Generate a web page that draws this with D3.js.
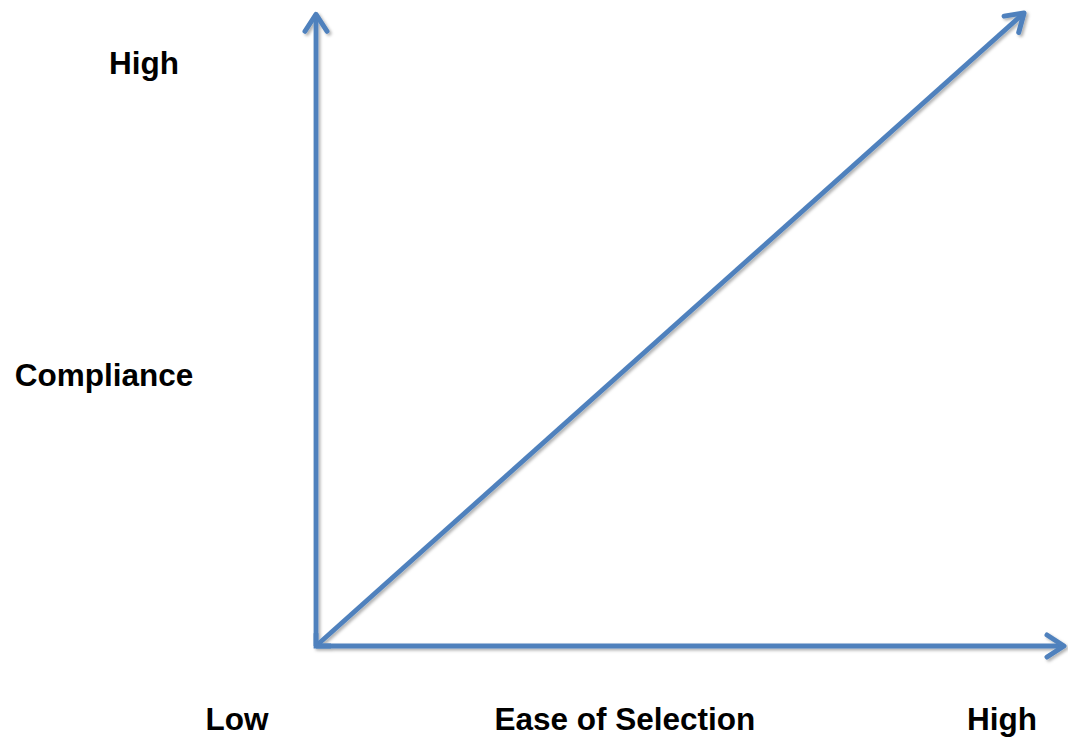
<!DOCTYPE html>
<html>
<head>
<meta charset="utf-8">
<script src="https://cdn.jsdelivr.net/npm/d3@7"></script>
<style>
  html, body { margin: 0; padding: 0; background: #fff; }
  svg { display: block; }
  text { font-family: "Liberation Sans", Arial, sans-serif; font-weight: bold; fill: #000; }
</style>
</head>
<body>
<svg id="chart" width="1068" height="737"></svg>
<script>
// Data (normalised 0..1 space)
const axisLines = [
  { name: "xAxis",    x1: 0, y1: 0, x2: 1, y2: 0 },
  { name: "yAxis",    x1: 0, y1: 0, x2: 0, y2: 0.998 },
  { name: "diagonal", x1: 0, y1: 0, x2: 0.9466, y2: 1 }
];
const yLabels = ["High", "Compliance"];
const xLabels = ["Low", "Ease of Selection", "High"];
const yLabelPos = [0.904, 0.411];
const xLabelPos = [-0.1056, 0.413, 0.917];

const W = 1068, H = 737;
const x = d3.scaleLinear().domain([0, 1]).range([316, 1064]);
const y = d3.scaleLinear().domain([0, 1]).range([646, 13]);

const svg = d3.select("#chart");
const color = "#4F81BD";

const defs = svg.append("defs");
const f = defs.append("filter").attr("id", "shadow")
  .attr("x", "-10%").attr("y", "-10%").attr("width", "120%").attr("height", "120%");
f.append("feDropShadow").attr("dx", 2).attr("dy", 2).attr("stdDeviation", 1.6)
  .attr("flood-color", "#000").attr("flood-opacity", 0.3);

defs.append("marker")
  .attr("id", "arrow")
  .attr("markerUnits", "userSpaceOnUse")
  .attr("viewBox", "-24 -14 28 28")
  .attr("refX", 0).attr("refY", 0)
  .attr("markerWidth", 28).attr("markerHeight", 28)
  .attr("orient", "auto")
  .append("path")
  .attr("d", "M-17,-11 L0,0 L-17,11")
  .attr("fill", "none")
  .attr("stroke", color)
  .attr("stroke-width", 5)
  .attr("stroke-linecap", "round")
  .attr("stroke-linejoin", "round");

const g = svg.append("g").attr("filter", "url(#shadow)");
g.selectAll("line").data(axisLines).join("line")
  .attr("x1", d => x(d.x1)).attr("y1", d => y(d.y1))
  .attr("x2", d => x(d.x2)).attr("y2", d => y(d.y2))
  .attr("stroke", color)
  .attr("stroke-width", 4.8)
  .attr("stroke-linecap", "butt")
  .attr("marker-end", "url(#arrow)");

// corner join
g.append("path")
  .attr("d", `M${x(0)},${y(0.02)} L${x(0)},${y(0)} L${x(0.02)},${y(0)}`)
  .attr("fill", "none").attr("stroke", color).attr("stroke-width", 4.8)
  .attr("stroke-linejoin", "miter");

// Y labels
svg.selectAll("text.ylab").data(yLabels).join("text")
  .attr("class", "ylab")
  .attr("x", (d, i) => i === 0 ? 144 : 104)
  .attr("y", (d, i) => y(yLabelPos[i]))
  .attr("text-anchor", "middle")
  .attr("font-size", 31.5)
  .text(d => d);

// X labels
svg.selectAll("text.xlab").data(xLabels).join("text")
  .attr("class", "xlab")
  .attr("x", (d, i) => x(xLabelPos[i]))
  .attr("y", 729.5)
  .attr("text-anchor", "middle")
  .attr("font-size", 31.5)
  .text(d => d);
</script>
</body>
</html>
